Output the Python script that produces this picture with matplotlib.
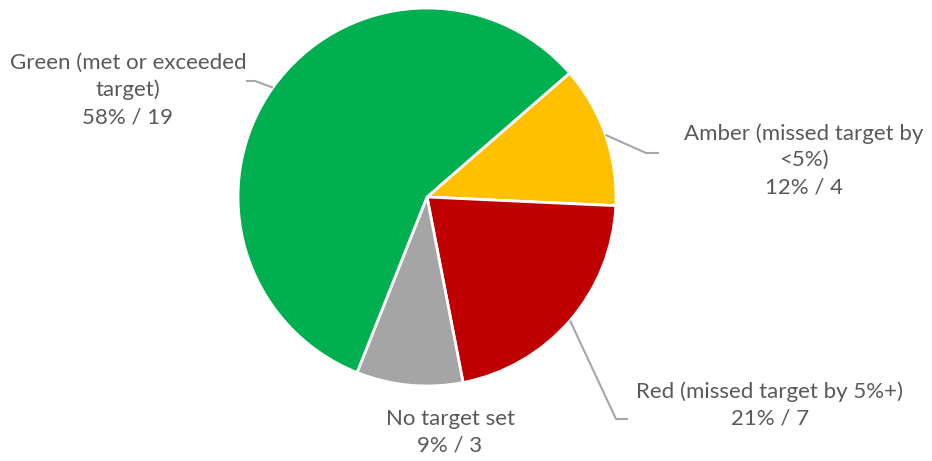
import numpy as np
import matplotlib.pyplot as plt

# Slice data (clockwise order as drawn)
labels = ["Amber (missed target by\n<5%)", "Red (missed target by 5%+)",
          "No target set", "Green (met or exceeded\ntarget)"]
counts = [4, 7, 3, 19]
colors = ["#FFC000", "#C00000", "#A5A5A5", "#00B050"]

W, H = 932, 461
fig = plt.figure(figsize=(W / 100, H / 100), dpi=100)
ax = fig.add_axes([0, 0, 1, 1])

cx, cy, r = 427, H - 197, 189
start = 41
wedges, _ = ax.pie(counts, colors=colors, startangle=start, counterclock=False,
                   center=(cx, cy), radius=r,
                   wedgeprops=dict(edgecolor="white", linewidth=2))
ax.set_xlim(0, W)
ax.set_ylim(0, H)
ax.set_aspect("equal")
ax.axis("off")

total = sum(counts)
pcts = [round(100 * c / total) for c in counts]

# label centre (pixel coords, y from top) and leader elbow points
text_pos = [(804, 160), (770, 405), (450, 432), (128, 90)]
leaders = [[(646, 153), (659, 153)],
           [(616, 419), (628, 419)],
           None,
           [(255, 81), (246, 81)]]

font = ["Lato", "DejaVu Sans"]
txt_color = "#595959"
for w, lab, p, c, (tx, ty), ld in zip(wedges, labels, pcts, counts, text_pos, leaders):
    ax.text(tx, H - ty, f"{lab}\n{p}% / {c}", ha="center", va="center",
            multialignment="center", fontsize=16, color=txt_color,
            family=font, linespacing=1.42)
    if ld is None:
        continue
    mid = np.deg2rad((w.theta1 + w.theta2) / 2)
    x0 = cx + r * np.cos(mid)
    y0 = cy + r * np.sin(mid)
    xs = [x0] + [q[0] for q in ld]
    ys = [y0] + [H - q[1] for q in ld]
    ax.plot(xs, ys, color="#A6A6A6", linewidth=1.5, solid_capstyle="butt")

fig.savefig("out.png", dpi=100)
